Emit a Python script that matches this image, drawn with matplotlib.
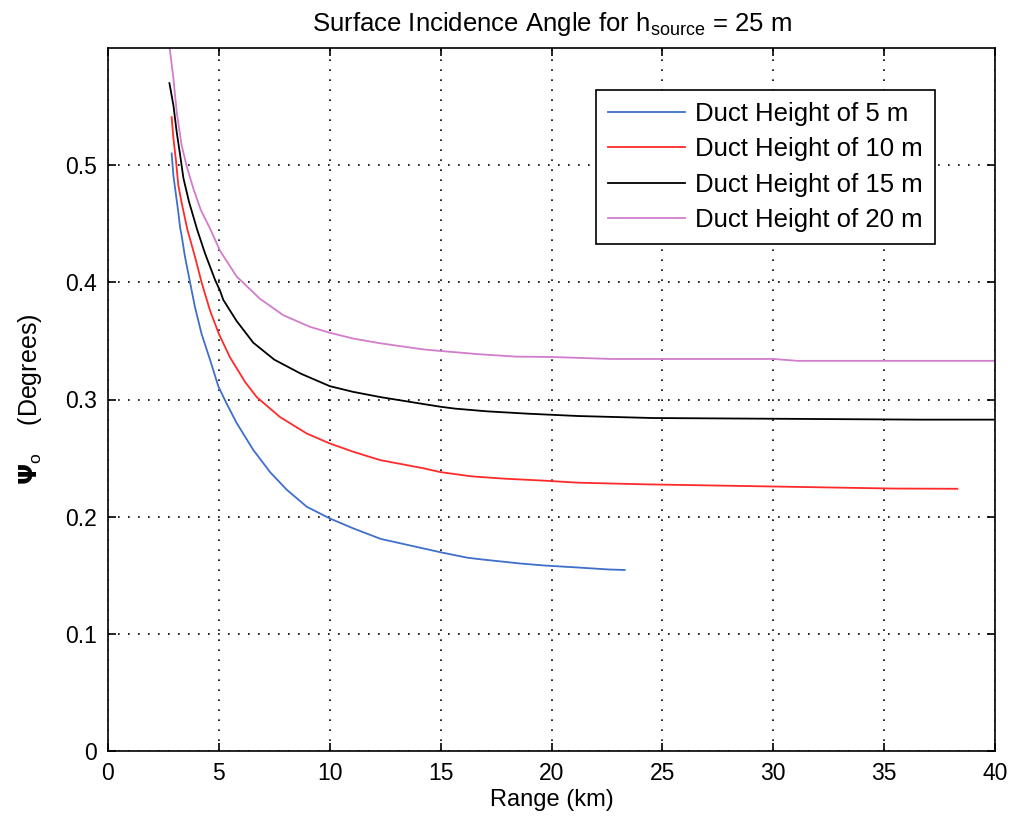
import matplotlib
matplotlib.use("Agg")
import matplotlib.pyplot as plt

plt.rcParams['font.family'] = ['Liberation Sans', 'DejaVu Sans']
plt.rcParams['mathtext.fontset'] = 'custom'
plt.rcParams['mathtext.rm'] = 'Liberation Sans'
plt.rcParams['mathtext.it'] = 'Liberation Sans'
plt.rcParams['mathtext.bf'] = 'DejaVu Sans:bold'

# Duct height 5 m
x5 = [2.87, 2.95, 3.07, 3.17, 3.25, 3.32, 3.47, 3.70, 3.92, 4.22, 4.60, 4.98, 5.35, 5.80, 6.55, 7.31, 8.06, 8.96,
      10.0, 11.06, 12.3, 15.0, 16.2, 16.9, 17.76, 18.6, 19.7, 21.2, 22.6, 23.3]
y5 = [0.510, 0.491, 0.474, 0.460, 0.447, 0.440, 0.422, 0.400, 0.379, 0.356, 0.334, 0.311, 0.2965, 0.280, 0.257, 0.238, 0.223, 0.2085,
      0.1985, 0.190, 0.181, 0.1696, 0.165, 0.1634, 0.1617, 0.160, 0.1583, 0.1566, 0.1549, 0.1545]
# Duct height 10 m
x10 = [2.87, 2.95, 3.07, 3.17, 3.32, 3.58, 3.92, 4.22, 4.60, 5.0, 5.50, 6.18, 6.71, 7.76, 8.96, 10.0, 11.06, 12.27,
       14.2, 15.0, 16.4, 17.9, 19.7, 21.2, 24.2, 29.5, 35.4, 38.3]
y10 = [0.541, 0.523, 0.503, 0.483, 0.468, 0.445, 0.422, 0.400, 0.376, 0.356, 0.336, 0.315, 0.302, 0.285, 0.271, 0.2625, 0.2554, 0.2483,
       0.2414, 0.238, 0.2344, 0.2324, 0.2307, 0.229, 0.2276, 0.2259, 0.2240, 0.2238]
# Duct height 15 m
x15 = [2.77, 2.95, 3.10, 3.25, 3.40, 3.65, 4.02, 4.37, 4.83, 5.05, 5.20, 5.80, 6.55, 7.50, 8.70, 10.0, 11.06, 12.3,
       14.2, 15.0, 15.66, 17.09, 18.93, 21.2, 24.55, 36.7, 40.0]
y15 = [0.570, 0.551, 0.528, 0.509, 0.489, 0.469, 0.445, 0.425, 0.402, 0.393, 0.385, 0.367, 0.3485, 0.334, 0.322, 0.3114, 0.3065, 0.302,
       0.2962, 0.2938, 0.2922, 0.2899, 0.2879, 0.2859, 0.2842, 0.2828, 0.2828]
# Duct height 20 m
x20 = [2.78, 2.95, 3.10, 3.32, 3.55, 3.85, 4.18, 4.60, 5.05, 5.80, 6.85, 7.90, 9.11, 10.0, 11.06, 12.27,
       14.2, 15.0, 16.76, 18.4, 20.0, 22.67, 30.0, 31.1, 40.0]
y20 = [0.600, 0.574, 0.545, 0.517, 0.499, 0.480, 0.462, 0.446, 0.427, 0.405, 0.386, 0.372, 0.362, 0.357, 0.352, 0.348,
       0.3428, 0.3414, 0.3386, 0.3366, 0.3363, 0.3346, 0.3346, 0.333, 0.333]

labels = ['Duct Height of 5 m', 'Duct Height of 10 m', 'Duct Height of 15 m', 'Duct Height of 20 m']
colors = ['#3f6fc8', '#ff2a2a', '#000000', '#d27ccc']

fig = plt.figure(figsize=(10.14, 8.24), dpi=100)
ax = fig.add_axes([108/1014, 1 - 751/824, (995-108)/1014, (751-48)/824])

for xs, ys, lab, c in zip([x5, x10, x15, x20], [y5, y10, y15, y20], labels, colors):
    ax.plot(xs, ys, color=c, lw=1.3, label=lab)

ax.set_xlim(0, 40)
ax.set_ylim(0, 0.6)
ax.set_xticks(range(0, 41, 5))
ax.set_yticks([0, 0.1, 0.2, 0.3, 0.4, 0.5])
ax.set_yticklabels(['0', '0.1', '0.2', '0.3', '0.4', '0.5'])
ax.grid(True, color='black', linestyle=(0, (1, 5)), linewidth=1.2)
ax.tick_params(direction='in', top=True, right=True, length=6, width=1.2, labelsize=16.5, pad=8)
for s in ax.spines.values():
    s.set_linewidth(1.2)

ax.set_xlabel('Range (km)', fontsize=17, labelpad=3)
ax.set_ylabel(r'$\mathbf{\Psi}_{\mathrm{o}}$    (Degrees)', fontsize=18, labelpad=15)
ax.set_title(r'Surface Incidence Angle for h$_{\mathrm{source}}$ = 25 m', fontsize=18.5, pad=12)

leg = ax.legend(loc='upper right', bbox_to_anchor=(0.932, 0.940), fontsize=18.5,
                frameon=True, fancybox=False, edgecolor='black', framealpha=1,
                handlelength=3.0, borderpad=0.45, labelspacing=0.45, handletextpad=0.4,
                borderaxespad=0)
leg.get_frame().set_linewidth(1.2)

fig.savefig('out.png', dpi=100)
